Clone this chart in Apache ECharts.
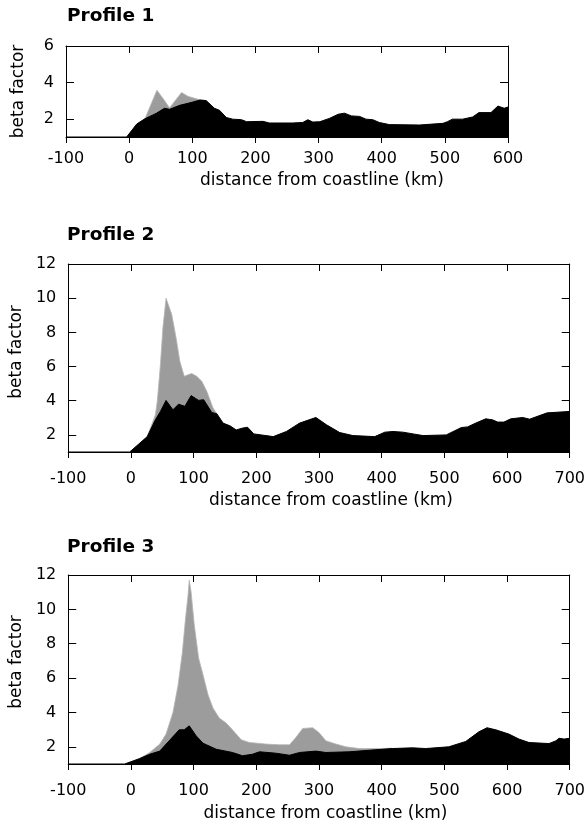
<!DOCTYPE html>
<html>
<head>
<meta charset="utf-8">
<script src="https://cdn.jsdelivr.net/npm/echarts@6/dist/echarts.min.js"></script>
<style>
	html, body { margin: 0; padding: 0; background: #fff; }
	#chart { width: 588px; height: 827px; }
</style>
</head>
<body>
<div id="chart"></div>
<script>
// profile 1
var p1Km = [-100, -4, 12, 25, 43, 56, 64, 80, 93, 101, 112, 122, 135, 143, 154, 164, 178, 186, 212, 222, 259, 275, 283, 291, 302, 317, 331, 341, 352, 365, 375, 386, 396, 412, 460, 497, 504, 512, 528, 544, 554, 573, 584, 594, 600];
var p1Lower = [1, 1, 1.71, 2.0, 2.3, 2.58, 2.52, 2.74, 2.85, 2.92, 3.03, 3.0, 2.58, 2.47, 2.07, 1.98, 1.95, 1.84, 1.86, 1.77, 1.77, 1.8, 1.95, 1.82, 1.84, 2.02, 2.25, 2.31, 2.16, 2.13, 1.98, 1.95, 1.8, 1.68, 1.66, 1.75, 1.84, 1.98, 1.98, 2.1, 2.34, 2.34, 2.7, 2.58, 2.65];
var p1UpKm = [12, 25, 44, 54, 64, 83, 93, 101, 112, 122];
var p1Upper = [1.71, 2.0, 3.57, 3.1, 2.6, 3.45, 3.24, 3.15, 3.05, 3.0];
// profile 2
var p2Km = [-100, -2, 26, 39, 47, 56, 67, 76, 86, 96, 108, 116, 129, 137, 147, 158, 168, 177, 186, 196, 227, 248, 269, 295, 312, 333, 354, 389, 405, 418, 434, 450, 466, 503, 527, 537, 550, 566, 577, 585, 595, 606, 625, 636, 651, 664, 699, 700];
var p2Lower = [1, 1, 1.9, 2.88, 3.37, 4.02, 3.47, 3.8, 3.67, 4.3, 4.02, 4.06, 3.31, 3.24, 2.69, 2.53, 2.29, 2.39, 2.45, 2.06, 1.9, 2.2, 2.69, 3.02, 2.59, 2.14, 1.96, 1.9, 2.16, 2.2, 2.16, 2.06, 1.96, 2.0, 2.43, 2.47, 2.69, 2.94, 2.88, 2.75, 2.75, 2.94, 3.02, 2.92, 3.12, 3.29, 3.37, 3.37];
var p2UpKm = [26, 39, 42, 47, 51, 56, 65, 72, 78, 85, 92, 97, 105, 113, 121, 131, 137];
var p2Upper = [1.9, 3.18, 3.96, 6.1, 8.27, 10.0, 9.06, 7.69, 6.31, 5.43, 5.53, 5.59, 5.43, 5.14, 4.55, 3.57, 3.24];
// profile 3
var p3Km = [-100, -10, 14, 30, 46, 62, 77, 85, 93, 104, 115, 136, 162, 178, 194, 205, 231, 253, 269, 295, 311, 348, 391, 417, 449, 470, 507, 534, 555, 568, 582, 603, 619, 635, 667, 678, 683, 691, 700];
var p3Lower = [1, 1, 1.32, 1.57, 1.75, 2.39, 2.99, 2.99, 3.22, 2.64, 2.21, 1.86, 1.67, 1.48, 1.57, 1.71, 1.63, 1.51, 1.67, 1.75, 1.67, 1.71, 1.83, 1.9, 1.94, 1.9, 2.0, 2.31, 2.87, 3.11, 2.99, 2.74, 2.45, 2.25, 2.19, 2.35, 2.5, 2.45, 2.5];
var p3UpKm = [14, 30, 46, 56, 67, 75, 82, 87, 91, 93, 96, 101, 108, 115, 123, 131, 141, 152, 162, 176, 189, 202, 215, 237, 253, 263, 274, 290, 300, 311, 327, 343, 364, 396, 417];
var p3Upper = [1.32, 1.67, 2.16, 2.74, 4.0, 5.55, 7.49, 9.44, 10.8, 11.7, 11.0, 9.1, 7.16, 6.19, 5.03, 4.25, 3.67, 3.38, 2.99, 2.41, 2.25, 2.21, 2.16, 2.12, 2.12, 2.54, 3.07, 3.11, 2.83, 2.35, 2.16, 2.0, 1.9, 1.9, 1.92];

var titles = ['Profile 1', 'Profile 2', 'Profile 3'];
var xMax = [600, 700, 700];
var yMax = [6, 12, 12];
var yTicks = [[2, 4], [2, 4, 6, 8, 10], [2, 4, 6, 8, 10]];
var yLabels = [[2, 4, 6], [2, 4, 6, 8, 10, 12], [2, 4, 6, 8, 10, 12]];

var font = 'DejaVu Sans';
// grid boxes
var boxes = [
	{left: 66, top: 46, width: 442, height: 91},
	{left: 67, top: 264, width: 503, height: 188},
	{left: 67, top: 575, width: 503, height: 189}
];
var titleTop = [7, 226, 538];
var labelMargin = [14, 19, 19];
var xNameGap = [35, 40, 41];
var xNamePad = [70, 24, 13];
var yNameGap = [39, 41, 38];
var yNamePad = [0, 12, 15];

function pairs(xs, ys) {
	var out = [];
	for (var i = 0; i < xs.length; i++) {
		out.push([xs[i], ys[i]]);
	}
	return out;
}

var lower = [pairs(p1Km, p1Lower), pairs(p2Km, p2Lower), pairs(p3Km, p3Lower)];
var upper = [pairs(p1UpKm, p1Upper), pairs(p2UpKm, p2Upper), pairs(p3UpKm, p3Upper)];

var line = {color: '#000', width: 1};
var option = {
	animation: false,
	backgroundColor: '#fff',
	title: [],
	grid: [],
	xAxis: [],
	yAxis: [],
	series: []
};

for (var i = 0; i < 3; i++) {
	option.title.push({
		text: titles[i], left: 67, top: titleTop[i], padding: 0,
		textStyle: {fontFamily: font, fontSize: 18.5, fontWeight: 'bold', color: '#000'}
	});
	option.grid.push({
		left: boxes[i].left, top: boxes[i].top, width: boxes[i].width, height: boxes[i].height
	});
	// bottom axis with labels, top one only for the ticks
	option.xAxis.push({
		gridIndex: i, type: 'value', min: -100, max: xMax[i], interval: 100, position: 'bottom',
		axisLine: {onZero: false, lineStyle: line},
		axisTick: {inside: false, length: 6, lineStyle: line},
		axisLabel: {margin: labelMargin[i], fontFamily: font, fontSize: 16, color: '#000'},
		splitLine: {show: false},
		name: 'distance from coastline (km)', nameLocation: 'middle', nameGap: xNameGap[i],
		nameTextStyle: {fontFamily: font, fontSize: 17, color: '#000', padding: [0, 0, 0, xNamePad[i]]}
	});
	option.xAxis.push({
		gridIndex: i, type: 'value', min: -100, max: xMax[i], interval: 100, position: 'top',
		axisLine: {onZero: false, lineStyle: line},
		axisTick: {inside: true, length: 7, lineStyle: line},
		axisLabel: {show: false},
		splitLine: {show: false}
	});
	option.yAxis.push({
		gridIndex: i, type: 'value', min: 1, max: yMax[i], position: 'left',
		axisLine: {show: true, onZero: false, lineStyle: line},
		axisTick: {show: true, inside: true, length: 8, lineStyle: line, customValues: yTicks[i]},
		axisLabel: {margin: 12, fontFamily: font, fontSize: 16, color: '#000', customValues: yLabels[i]},
		splitLine: {show: false},
		name: 'beta factor', nameLocation: 'middle', nameGap: yNameGap[i],
		nameTextStyle: {fontFamily: font, fontSize: 17, color: '#000', padding: [0, 0, 0, yNamePad[i]]}
	});
	option.yAxis.push({
		gridIndex: i, type: 'value', min: 1, max: yMax[i], position: 'right',
		axisLine: {show: true, onZero: false, lineStyle: line},
		axisTick: {show: true, inside: true, length: 8, lineStyle: line, customValues: yTicks[i]},
		axisLabel: {show: false},
		splitLine: {show: false}
	});
	// grey envelope first, black profile drawn over it
	option.series.push({
		type: 'line', xAxisIndex: i * 2, yAxisIndex: i * 2, data: upper[i],
		showSymbol: false, silent: true, z: 2,
		lineStyle: {color: '#b5b5b5', width: 0.8},
		areaStyle: {color: '#9c9c9c', opacity: 1, origin: 'start'}
	});
	option.series.push({
		type: 'line', xAxisIndex: i * 2, yAxisIndex: i * 2, data: lower[i],
		showSymbol: false, silent: true, z: 3,
		lineStyle: {color: '#000', width: 1},
		areaStyle: {color: '#000', opacity: 1, origin: 'start'}
	});
}

var chart = echarts.init(document.getElementById('chart'));
chart.setOption(option);
</script>
</body>
</html>
